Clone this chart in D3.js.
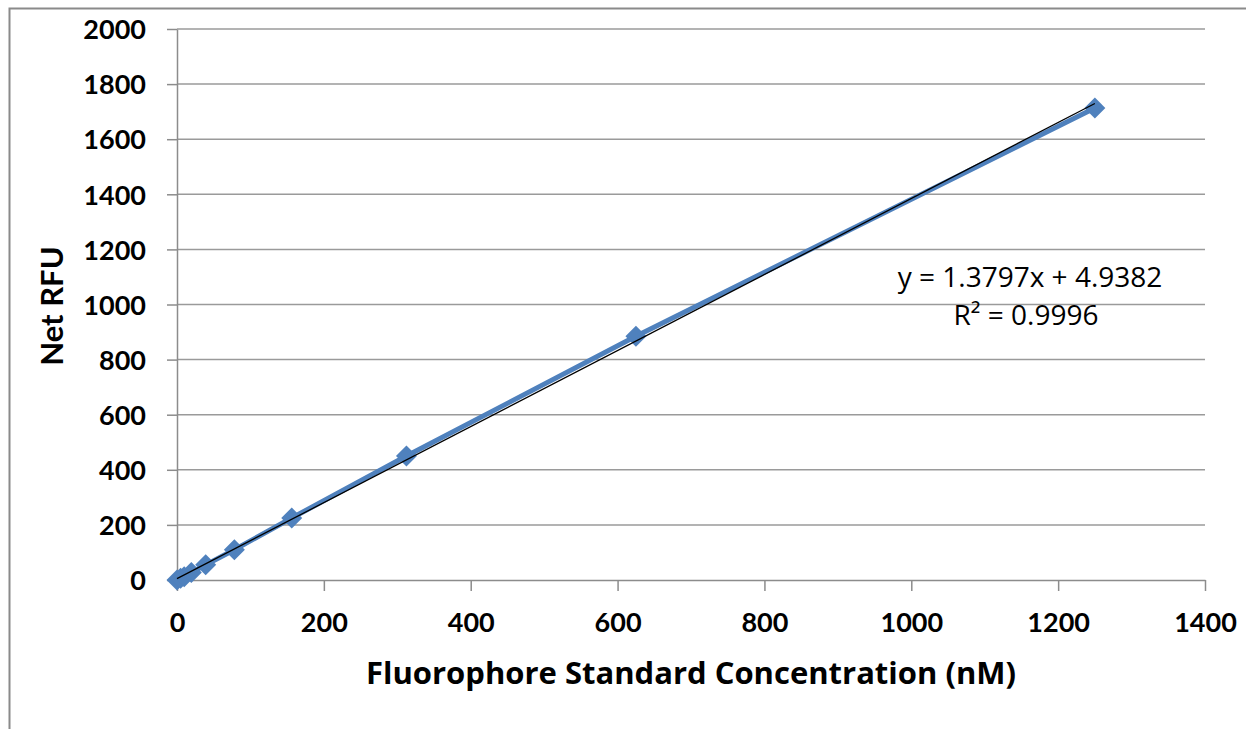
<!DOCTYPE html>
<html>
<head>
<meta charset="utf-8">
<script src="https://cdn.jsdelivr.net/npm/d3@7"></script>
<style>
  body { margin: 0; background: #fff; }
  svg { display: block; font-family: Lato, "Open Sans", sans-serif; }
  .grid line { stroke: #9a9a9a; stroke-width: 1.5; }
  .axis path, .axis line { stroke: #8c8c8c; stroke-width: 1.5; }
  .axis text { fill: #000; font-family: Lato, sans-serif; font-weight: bold; font-size: 27px; }
</style>
</head>
<body>
<svg id="chart" width="1246" height="729"></svg>
<script>
// standard dilution series (nM) and measured net RFU
var concentrations = [0, 4.88, 9.77, 19.53, 39.06, 78.13, 156.25, 312.5, 625, 1250];
var netRFU = [0, 6, 12, 27, 55, 110, 225, 450, 885, 1713];
var xTicks = [0, 200, 400, 600, 800, 1000, 1200, 1400];
var yTicks = [0, 200, 400, 600, 800, 1000, 1200, 1400, 1600, 1800, 2000];
var slope = 1.3797, intercept = 4.9382;
var eqLabel = "y = 1.3797x + 4.9382";
var r2Label = "R² = 0.9996";

var svg = d3.select("#chart");
var margin = {top: 29, right: 41, bottom: 149, left: 177};
var width = +svg.attr("width") - margin.left - margin.right;
var height = +svg.attr("height") - margin.top - margin.bottom;

// outer chart frame
svg.append("rect")
    .attr("x", 9.5).attr("y", 8.5)
    .attr("width", 1300).attr("height", 800)
    .attr("fill", "none")
    .attr("stroke", "#8a8a8a")
    .attr("stroke-width", 2);

var g = svg.append("g").attr("transform", "translate(" + margin.left + "," + margin.top + ")");

var x = d3.scaleLinear().domain([0, 1400]).range([0, width]);
var y = d3.scaleLinear().domain([0, 2000]).range([height, 0]);

g.append("g")
    .attr("class", "grid")
  .selectAll("line")
  .data(yTicks.slice(1))
  .enter().append("line")
    .attr("x1", 0).attr("x2", width)
    .attr("y1", function(d) { return y(d); })
    .attr("y2", function(d) { return y(d); });

g.append("g")
    .attr("class", "axis axis--x")
    .attr("transform", "translate(0," + height + ")")
    .call(d3.axisBottom(x).tickValues(xTicks).tickFormat(d3.format("d"))
      .tickSize(11).tickSizeOuter(0).tickPadding(22))
  .selectAll("text")
    .attr("dy", "0.71em");

g.append("g")
    .attr("class", "axis axis--y")
    .call(d3.axisLeft(y).tickValues(yTicks).tickFormat(d3.format("d"))
      .tickSize(10).tickSizeOuter(0).tickPadding(21))
  .selectAll("text")
    .attr("dy", "0.36em");

// axis titles
svg.append("text")
    .attr("x", 691).attr("y", 684)
    .attr("text-anchor", "middle")
    .style("font-family", "'Open Sans', sans-serif")
    .style("font-size", "31px")
    .style("font-weight", "bold")
    .text("Fluorophore Standard Concentration (nM)");

svg.append("text")
    .attr("transform", "translate(63,306) rotate(-90)")
    .attr("text-anchor", "middle")
    .style("font-size", "31px")
    .style("font-weight", "bold")
    .text("Net RFU");

var data = concentrations.map(function(c, i) { return {x: c, y: netRFU[i]}; });

// series line
g.append("path")
    .datum(data)
    .attr("fill", "none")
    .attr("stroke", "#4f81bd")
    .attr("stroke-width", 5)
    .attr("stroke-linejoin", "round")
    .attr("d", d3.line().x(function(d) { return x(d.x); }).y(function(d) { return y(d.y); }));

// markers
var diamond = d3.symbol().type(d3.symbolSquare).size(220);
g.selectAll(".pt")
    .data(data)
    .enter().append("path")
      .attr("class", "pt")
      .attr("fill", "#4f81bd")
      .attr("d", diamond)
      .attr("transform", function(d) { return "translate(" + x(d.x) + "," + y(d.y) + ") rotate(45)"; });

// linear trendline
var xMax = d3.max(concentrations);
g.append("line")
    .attr("x1", x(0)).attr("y1", y(intercept))
    .attr("x2", x(xMax)).attr("y2", y(slope * xMax + intercept))
    .attr("stroke", "#000")
    .attr("stroke-width", 1.3);

var eq = svg.append("g")
    .style("font-family", "'Open Sans', sans-serif")
    .style("font-size", "28px")
    .attr("text-anchor", "middle");
eq.append("text").attr("x", 1030).attr("y", 287).text(eqLabel);
eq.append("text").attr("x", 1026).attr("y", 325).text(r2Label);
</script>
</body>
</html>
